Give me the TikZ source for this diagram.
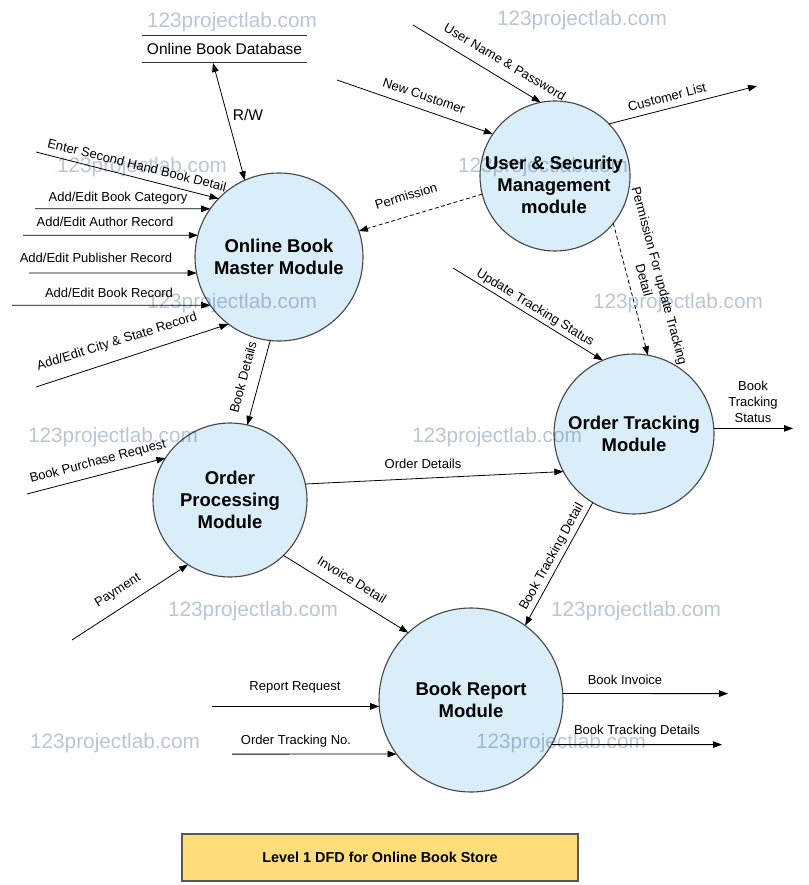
\documentclass[tikz,border=0pt]{standalone}
\usepackage{fontspec}
\setmainfont{Liberation Sans}
\usetikzlibrary{arrows.meta,calc}
\definecolor{procfill}{RGB}{217,238,248}
\definecolor{procline}{RGB}{70,70,70}
\definecolor{wmark}{RGB}{185,198,215}
\definecolor{titlefill}{RGB}{255,222,122}
\begin{document}
\begin{tikzpicture}[x=1pt,y=-1pt,
  proc/.style={circle, draw=procline, line width=1.1pt, fill=procfill, inner sep=0pt, outer sep=0pt, align=center, font=\fontsize{18.5}{22}\selectfont\bfseries},
  proctext/.style={inner sep=0pt, align=center, font=\fontsize{18.5}{22}\selectfont\bfseries},
  flow/.style={draw=black, line width=0.8pt, -{Triangle[length=9pt,width=6.5pt]}},
  ctrl/.style={flow, dash pattern=on 4pt off 2.5pt},
  lbl/.style={font=\fontsize{13}{16}\selectfont, inner sep=0pt, align=center},
  biglbl/.style={font=\fontsize{15.5}{18}\selectfont, inner sep=0pt},
  wm/.style={font=\fontsize{20.8}{24}\selectfont, text=wmark, inner sep=0pt}]
\useasboundingbox (0,0) rectangle (808,885);
\fill[white] (0,0) rectangle (808,885);

% processes
\node[proc, minimum size=168pt] (obm) at (279,257) {Online Book\\Master Module};
\node[proc, minimum size=150pt] (us) at (555,176) {};
\node[proctext] (ust) at (554,185) {User \& Security\\Management\\module};
\node[proc, minimum size=160pt] (ot) at (634,434) {Order Tracking\\Module};
\node[proc, minimum size=154pt] (op) at (230,500) {Order\\Processing\\Module};
\node[proc, minimum size=184pt] (br) at (471,700) {Book Report\\Module};

% data store
\node[biglbl, minimum width=165pt, minimum height=26pt] (db) at (224.5,49) {Online Book Database};
\draw[line width=0.8pt, black!80] (db.north west) -- (db.north east) (db.south west) -- (db.south east);

% title
\node[draw=black!65, line width=1.2pt, fill=titlefill, minimum width=396pt, minimum height=47pt, inner sep=0pt, font=\fontsize{14.4}{17}\selectfont\bfseries] (title) at (380,857.5) {Level 1 DFD for Online Book Store};

% free ends
\coordinate (dbR) at (213,63);
\coordinate (eSH) at (36,152);
\coordinate (eCat) at (35,208.8);
\coordinate (eAuth) at (23,235.3);
\coordinate (ePub) at (29,273);
\coordinate (eRec) at (12,305.2);
\coordinate (eCity) at (36,387);
\coordinate (eBPR) at (27,494);
\coordinate (ePay) at (72,640);
\coordinate (eNC) at (337,80);
\coordinate (eUN) at (413,25);
\coordinate (eCL) at (757,86);
\coordinate (eUTS) at (453,268);
\coordinate (eBTS) at (793,428.4);
\coordinate (eRR) at (212,706.4);
\coordinate (eOTN) at (232,754.1);
\coordinate (eBI) at (728,693.6);
\coordinate (eBTD) at (722,744.6);

% flows
\draw[line width=0.8pt, {Triangle[length=9pt,width=6.5pt]}-{Triangle[length=9pt,width=6.5pt]}] (dbR) -- (obm.114);
\draw[flow] (eSH) -- (obm.136);
\draw[flow] (eCat) -- (obm.145);
\draw[flow] (eAuth) -- (obm.165);
\draw[flow] (ePub) -- (obm.191);
\draw[flow] (eRec) -- (obm.215);
\draw[flow] (eCity) -- (obm.233);
\draw[ctrl] (us.194) -- (obm.18);
\draw[flow] (obm.264) -- (op.77);
\draw[flow] (eBPR) -- (op.147);
\draw[flow] (ePay) -- (op.237);
\draw[flow] (op.12) -- (ot.208);
\draw[flow] (op.314) -- (br.133);
\draw[flow] (ot.239) -- (br.54);
\draw[flow] (ot.4) -- (eBTS);
\draw[flow] (eNC) -- (us.146);
\draw[flow] (eUN) -- (us.101);
\draw[flow] (us.44) -- (eCL);
\draw[ctrl] (us.321) -- (ot.80);
\draw[flow] (eUTS) -- (ot.113);
\draw[flow] (eRR) -- (br.184);
\draw[flow] (eOTN) -- (br.216);
\draw[flow] (br.4) -- (eBI);
\draw[flow] (br.331) -- (eBTD);

% labels
\node[biglbl] (lRW) at (248,115) {R/W};
\node[lbl, rotate=-14] (lSH) at (137,165) {Enter Second Hand Book Detail};
\node[lbl] (lCat) at (118,198) {Add/Edit Book Category};
\node[lbl] (lAuth) at (105,222) {Add/Edit Author Record};
\node[lbl] (lPub) at (96,258) {Add/Edit Publisher Record};
\node[lbl] (lRec) at (109,293) {Add/Edit Book Record};
\node[lbl, rotate=17.3] (lCity) at (117,342) {Add/Edit City \& State Record};
\node[lbl, rotate=16.9] (lPerm) at (406,196) {Permission};
\node[lbl, rotate=75] (lBD) at (243,377) {Book Details};
\node[lbl, rotate=14.6] (lBPR) at (98,462) {Book Purchase Request};
\node[lbl, rotate=32.4] (lPay) at (118,591) {Payment};
\node[lbl, rotate=-31.6] (lInv) at (352,580) {Invoice Detail};
\node[lbl] (lOD) at (423,464) {Order Details};
\node[lbl, rotate=61.2] (lBTDl) at (552,557) {Book Tracking Detail};
\node[lbl] (lBTS) at (753,402) {Book\\Tracking\\Status};
\node[lbl, rotate=-18.7] (lNC) at (424,96) {New Customer};
\node[lbl, rotate=-30.6] (lUN) at (505,62) {User Name \& Password};
\node[lbl, rotate=14.7] (lCL) at (667,97) {Customer List};
\node[lbl, rotate=-75] (lPT) at (652,278) {Permission For update Tracking\\Detail};
\node[lbl, rotate=-31.5] (lUTS) at (535,308) {Update Tracking Status};
\node[lbl] (lRR) at (295,687) {Report Request};
\node[lbl] (lOTN) at (296,741) {Order Tracking No.};
\node[lbl] (lBI) at (625,680) {Book Invoice};
\node[lbl] (lBTDs) at (637,731) {Book Tracking Details};

% watermarks
\begin{scope}[blend mode=multiply]
\node[wm] (w1) at (232,22) {123projectlab.com};
\node[wm] (w2) at (582,20) {123projectlab.com};
\node[wm] (w3) at (142,167) {123projectlab.com};
\node[wm] (w4) at (543,167) {123projectlab.com};
\node[wm] (w5) at (232,303) {123projectlab.com};
\node[wm] (w6) at (678,303) {123projectlab.com};
\node[wm] (w7) at (113,437) {123projectlab.com};
\node[wm] (w8) at (497,437) {123projectlab.com};
\node[wm] (w9) at (253,611) {123projectlab.com};
\node[wm] (w10) at (636,611) {123projectlab.com};
\node[wm] (w11) at (115,743) {123projectlab.com};
\node[wm] (w12) at (561,743) {123projectlab.com};
\end{scope}
\end{tikzpicture}
\end{document}
